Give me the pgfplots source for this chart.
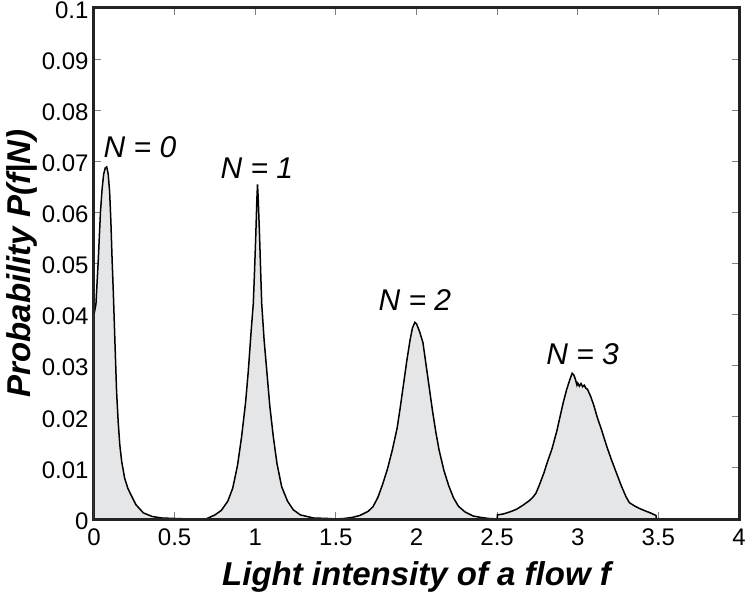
\documentclass[border=0pt]{standalone}
\usepackage{fontspec}
\setmainfont{Liberation Sans}
\usepackage{pgfplots}
\pgfplotsset{compat=1.18}
\usetikzlibrary{calc}

\definecolor{fillgray}{RGB}{229,230,232}
\definecolor{framec}{RGB}{35,35,35}

\pgfplotstableread{
x y
0.000 0.0400
0.012 0.0420
0.027 0.0510
0.040 0.0600
0.050 0.0645
0.060 0.0675
0.070 0.0687
0.079 0.0689
0.088 0.0675
0.097 0.0640
0.105 0.0580
0.112 0.0510
0.120 0.0442
0.130 0.0345
0.140 0.0250
0.150 0.0190
0.160 0.0145
0.172 0.0112
0.190 0.0080
0.210 0.0060
0.225 0.0050
0.260 0.0028
0.306 0.0012
0.360 0.0005
0.420 0.0002
0.500 0.0001
0.600 0.0000
}\nzero

\pgfplotstableread{
x y
0.700 0.0000
0.701 0.0001
0.750 0.0008
0.790 0.0017
0.830 0.0035
0.860 0.0060
0.890 0.0105
0.915 0.0160
0.940 0.0228
0.957 0.0290
0.975 0.0370
0.988 0.0422
0.995 0.0480
1.003 0.0552
1.010 0.0625
1.014 0.0655
1.018 0.0630
1.027 0.0552
1.035 0.0470
1.040 0.0422
1.055 0.0350
1.071 0.0292
1.090 0.0222
1.112 0.0161
1.135 0.0108
1.164 0.0063
1.200 0.0035
1.236 0.0018
1.280 0.0008
1.360 0.0002
1.450 0.0001
1.500 0.0000
}\none

\pgfplotstableread{
x y
1.500 0.0000
1.550 0.0001
1.600 0.0003
1.650 0.0007
1.700 0.0015
1.730 0.0024
1.760 0.0042
1.790 0.0068
1.820 0.0098
1.850 0.0135
1.880 0.0178
1.900 0.0220
1.920 0.0265
1.940 0.0310
1.960 0.0350
1.975 0.0374
1.990 0.0385
2.000 0.0382
2.020 0.0366
2.040 0.0345
2.060 0.0300
2.080 0.0255
2.100 0.0210
2.120 0.0170
2.140 0.0135
2.170 0.0095
2.200 0.0065
2.230 0.0041
2.260 0.0025
2.300 0.0014
2.350 0.0006
2.400 0.0003
2.450 0.0001
2.500 0.0000
}\ntwo

\pgfplotstableread{
x y
2.500 0.0000
2.502 0.0008
2.540 0.0010
2.580 0.0014
2.620 0.0019
2.660 0.0027
2.700 0.0036
2.720 0.0042
2.740 0.0050
2.760 0.0065
2.790 0.0090
2.810 0.0110
2.840 0.0137
2.870 0.0172
2.890 0.0200
2.910 0.0228
2.930 0.0252
2.950 0.0272
2.965 0.0285
2.975 0.0282
2.985 0.0274
2.995 0.0262
3.000 0.0266
3.010 0.0260
3.020 0.0265
3.030 0.0259
3.040 0.0262
3.050 0.0256
3.060 0.0254
3.080 0.0240
3.100 0.0222
3.120 0.0200
3.150 0.0172
3.180 0.0142
3.210 0.0115
3.240 0.0090
3.270 0.0065
3.300 0.0043
3.320 0.0032
3.350 0.0026
3.380 0.0021
3.410 0.0017
3.450 0.0012
3.485 0.0007
3.488 0.0000
}\nthree

\begin{document}
\begin{tikzpicture}
\begin{axis}[
    scale only axis,
    width=645pt, height=511pt,
    xmin=0, xmax=4, ymin=0, ymax=0.1,
    xtick={0,0.5,...,4},
    xticklabels={0,0.5,1,1.5,2,2.5,3,3.5,4},
    ytick={0,0.01,...,0.1},
    yticklabels={0,0.01,0.02,0.03,0.04,0.05,0.06,0.07,0.08,0.09,0.1},
    tick align=inside,
    major tick length=7pt,
    tick style={gray, line width=1pt},
    axis line style={framec, line width=3pt},
    ticklabel style={font=\fontsize{24}{24}\selectfont},
    xticklabel style={yshift=-6pt},
    yticklabel style={xshift=-2pt, yshift=-2pt},
    /pgf/number format/assume math mode=true,
    xlabel={Light intensity of a flow f},
    ylabel={Probability P(f|N)},
    label style={font=\fontsize{33}{33}\selectfont\bfseries\itshape},
    xlabel style={at={(axis description cs:0.5,-0.1135)}, anchor=center},
    ylabel style={at={(axis description cs:-0.1116,0.5)}, anchor=center},
]
\coordinate (bl) at (rel axis cs:0,0);
\coordinate (tr) at (rel axis cs:1,1);
\addplot[fill=fillgray, draw=none] table {\nzero} \closedcycle;
\addplot[fill=fillgray, draw=none] table {\none} \closedcycle;
\addplot[fill=fillgray, draw=none] table {\ntwo} \closedcycle;
\addplot[fill=fillgray, draw=none] table {\nthree} \closedcycle;
\addplot[black, line width=1.5pt] table {\nzero};
\addplot[black, line width=1.5pt] table {\none};
\addplot[black, line width=1.5pt] table {\ntwo};
\addplot[black, line width=1.5pt] table {\nthree};
\draw[framec, line width=3pt] (rel axis cs:0,0) rectangle (rel axis cs:1,1);
\node[font=\fontsize{30}{30}\selectfont\itshape] at (axis cs:0.285,0.0728) {N = 0};
\node[font=\fontsize{30}{30}\selectfont\itshape] at (axis cs:1.01,0.0687) {N = 1};
\node[font=\fontsize{30}{30}\selectfont\itshape] at (axis cs:1.99,0.0429) {N = 2};
\node[font=\fontsize{30}{30}\selectfont\itshape] at (axis cs:3.03,0.0323) {N = 3};
\end{axis}
\pgfresetboundingbox
\path ($(bl)+(-94pt,-75pt)$) rectangle ($(tr)+(11pt,8pt)$);
\end{tikzpicture}
\end{document}
